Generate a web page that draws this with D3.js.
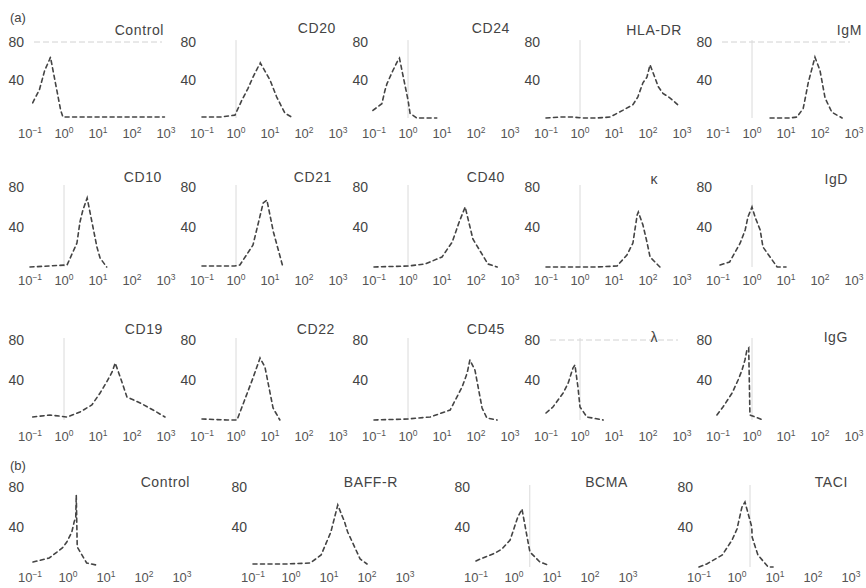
<!DOCTYPE html>
<html><head><meta charset="utf-8">
<script src="https://cdn.jsdelivr.net/npm/d3@7"></script>
<style>body{margin:0;background:#fff}svg{display:block}</style>
</head><body>
<svg id="c" width="866" height="588"></svg>
<script>
// ---------- labels ----------
const labelsA = [["Control","CD20","CD24","HLA-DR","IgM"],["CD10","CD21","CD40","κ","IgD"],["CD19","CD22","CD45","λ","IgG"]];
const labelsB = ["Control","BAFF-R","BCMA","TACI"];
const xTicks = [0.1, 1, 10, 100, 1000];
const xTickExp = ["−1","0","1","2","3"];
const yTicks = [40, 80];

// ---------- series: [fluorescence intensity, cell count] ----------
const controlA = [[0.12,16],[0.19,30],[0.27,50],[0.37,61],[0.4,64],[0.8,8],[0.93,1],[2,1],[10,1],[100,1],[900,1]];
const cd20 = [[0.1,1],[0.34,1],[0.93,3],[1.5,19],[2.24,31],[3.16,43],[4.5,54],[5,56],[5.2,58],[10,40],[15.8,22],[27.5,5],[48,0]];
const cd24 = [[0.093,8],[0.17,15],[0.21,29],[0.24,36],[0.36,50],[0.51,61],[0.56,63],[1,19],[1.15,5],[1.8,0],[7,0]];
const hladr = [[0.1,0],[0.26,1],[0.63,1],[1.15,0],[3.16,0],[7.6,1],[18,8],[36,14],[50,22],[71,37],[93,43],[115,56],[158,43],[200,33],[275,26],[447,21],[870,12]];
const igm = [[3.4,0],[6.6,0],[13,0],[21,1],[32,10],[36,19],[45,37],[71,64],[100,50],[141,21],[224,6],[447,0]];
const cd10 = [[0.1,0],[1.23,2],[2.4,24],[2.95,45],[3.6,57],[4.8,69],[7.1,40],[9.3,20],[11.5,9],[18,0]];
const cd21 = [[0.1,1],[0.9,1],[1.3,2],[3.16,22],[6.3,64],[8.1,67],[12.6,35],[24,0]];
const cd40 = [[0.1,0],[1,1],[3.16,3],[10,10],[20,25],[32,45],[48,60],[81,28],[224,3],[420,0]];
const kappa = [[0.1,0],[3,0],[12.3,1],[24,12],[36,24],[48,52],[52,55],[71,42],[93,25],[115,10],[224,0]];
const igd = [[0.115,2],[0.22,5],[0.45,24],[0.63,37],[0.76,50],[1,60],[1.23,50],[1.74,37],[2.1,20],[5.5,0],[10,0]];
const cd19 = [[0.12,3],[0.39,5],[1.23,3],[2.95,8],[6.6,15],[11.5,27],[18,38],[26,48],[32,57],[45,43],[71,23],[174,17],[417,10],[933,3]];
const cd22 = [[0.1,1],[0.55,0],[1.07,0],[3.16,42],[5.1,62],[7.1,53],[12.3,12],[19.5,0]];
const cd45 = [[0.1,0],[1,1],[2,2],[4.5,3],[17.4,10],[39,33],[55,47],[66,60],[93,50],[151,12],[209,2],[417,0]];
const lambda = [[0.1,7],[0.16,13],[0.32,27],[0.45,37],[0.62,52],[0.71,55],[0.87,33],[1,13],[1.6,3],[4.8,0]];
const igg = [[0.093,5],[0.14,13],[0.26,27],[0.39,40],[0.51,50],[0.62,60],[0.71,70],[0.8,72],[0.87,5],[2.1,0]];
const controlB = [[0.12,5],[0.32,9],[0.71,19],[0.93,25],[1.26,35],[1.45,45],[1.6,50],[1.65,72],[1.75,20],[3.1,4],[5.5,2]];
const baffr = [[0.1,3],[0.3,3],[0.74,3],[3.2,4],[6.2,12],[11.2,35],[17,62],[25.7,45],[31,35],[66,8],[100,3]];
const bcma = [[0.1,6],[0.13,8],[0.32,14],[0.48,18],[0.79,27],[0.93,35],[1.26,50],[1.62,58],[2.34,25],[2.63,15],[4.8,5],[7.8,2]];
const taci = [[0.1,0],[0.16,3],[0.41,12],[0.74,27],[1,38],[1.35,60],[1.62,65],[2.45,40],[2.5,30],[3.55,12],[6.6,0],[8.9,0]];

const seriesA = [[controlA,cd20,cd24,hladr,igm],[cd10,cd21,cd40,kappa,igd],[cd19,cd22,cd45,lambda,igg]];
const seriesB = [controlB,baffr,bcma,taci];
// marker lines (gate positions, intensity) and 80-level guide lines
const gateA = [[null,1,1,1,1],[1,1,1,1,1],[1,1,1,1,1]];
const gateB = [null,null,2.6,2.2];
const guideA = [[true,false,false,false,true],[false,false,false,false,false],[false,false,false,true,false]];

// ---------- layout ----------
const svg = d3.select("#c");
const font = "'Liberation Sans', Arial, Helvetica, sans-serif";
const txt = "#444";
const rowsA = [
  {y80:42, y0:118, tick:138, title:35},
  {y80:187, y0:267, tick:285, title:182},
  {y80:340, y0:420, tick:441, title:334}
];
const colsA = [30, 202, 374, 546, 718];
const decA = 34;
const titleOffA = [[134,134,136,136,144],[132,130,131,112,130],[133,133,131,112,130]];
const titleDyA = [[0,-2,-2,0,0],[0,0,0,2,2],[0,0,0,8,8]];
const rowB = {y80:487, y0:567, tick:582, title:487};
const colsB = [30, 253, 476, 699];
const decB = 38;
const titleOffB = [160, 145, 152, 149];

function panel(x0, dec, row, data, title, tOff, tDy, gate, guide) {
  const x = d3.scaleLog().domain([0.1, 1000]).range([x0, x0 + 4*dec]);
  const y = d3.scaleLinear().domain([0, 80]).range([row.y0, row.y80]);
  const g = svg.append("g");
  if (guide) {
    g.append("line").attr("x1", x(0.1)+4).attr("x2", x(1000)-4)
      .attr("y1", y(80)).attr("y2", y(80))
      .attr("stroke", "#d2d2d2").attr("stroke-width", 1).attr("stroke-dasharray","6,3");
  }
  if (gate) {
    g.append("line").attr("x1", x(gate)).attr("x2", x(gate))
      .attr("y1", y(82)).attr("y2", y(0))
      .attr("stroke", "#dadada").attr("stroke-width", 1);
  }
  // y tick labels
  g.selectAll(".yl").data(yTicks).join("text")
    .attr("x", x0 - 6).attr("y", d => y(d) + 5)
    .attr("text-anchor", "end").attr("font-family", font).attr("font-size", 14)
    .attr("fill", txt).text(d => d);
  // x tick labels
  const xl = g.selectAll(".xl").data(xTicks).join("text")
    .attr("x", d => x(d)).attr("y", row.tick)
    .attr("text-anchor", "middle").attr("font-family", font).attr("font-size", 13)
    .attr("fill", "#555");
  xl.append("tspan").text("10");
  xl.append("tspan").attr("dy", -5).attr("font-size", 8.5).text((d,i) => xTickExp[i]);
  // curve
  const line = d3.line().x(d => x(d[0])).y(d => y(d[1]));
  g.append("path").datum(data).attr("d", line)
    .attr("fill", "none").attr("stroke", "#444").attr("stroke-width", 1.6)
    .attr("stroke-dasharray", "4,3.5").attr("stroke-linecap","round");
  // title
  g.append("text").attr("x", x0 + tOff).attr("y", row.title + tDy)
    .attr("text-anchor", "end").attr("font-family", font).attr("font-size", 14)
    .attr("letter-spacing", 0.6).attr("fill", txt).text(title);
}

labelsA.forEach((names, r) => {
  names.forEach((n, c) => {
    panel(colsA[c], decA, rowsA[r], seriesA[r][c], n, titleOffA[r][c], titleDyA[r][c], gateA[r][c], guideA[r][c]);
  });
});
labelsB.forEach((n, c) => {
  panel(colsB[c], decB, rowB, seriesB[c], n, titleOffB[c], 0, gateB[c], false);
});
svg.append("text").attr("x", 10).attr("y", 22).attr("font-family", font).attr("font-size", 13).attr("fill", txt).text("(a)");
svg.append("text").attr("x", 10).attr("y", 470).attr("font-family", font).attr("font-size", 13).attr("fill", txt).text("(b)");
</script>
</body></html>
